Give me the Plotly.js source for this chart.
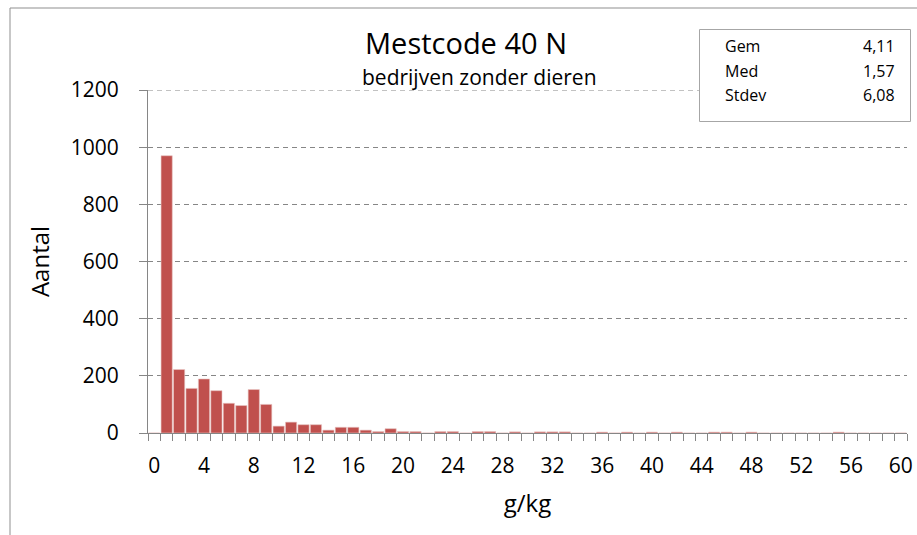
<!DOCTYPE html>
<html>
<head>
<meta charset="utf-8">
<script src="https://cdn.plot.ly/plotly-3.0.1.min.js"></script>
<style>
html,body{margin:0;padding:0;background:#fff;}
#chart{width:917px;height:535px;}
</style>
</head>
<body>
<div id="chart"></div>
<script>
// ---- data ----
const categories = [0,1,2,3,4,5,6,7,8,9,10,11,12,13,14,15,16,17,18,19,20,
  21,22,23,24,25,26,27,28,29,30,31,32,33,34,35,36,37,38,39,40,
  41,42,43,44,45,46,47,48,49,50,51,52,53,54,55,56,57,58,59,60];
const counts = [0,970,222,156,189,148,104,96,152,100,24,
  38,29,29,10,20,20,10,5,15,5,
  5,0,5,5,0,5,5,0,4,0,
  4,4,4,0,0,3,0,3,0,3,
  0,3,0,0,3,3,0,3,0,0,
  0,0,0,0,3,0,0,0,0,0];
const xTickVals = [0,4,8,12,16,20,24,28,32,36,40,44,48,52,56,60];
const xTickText = ["0","4","8","12","16","20","24","28","32","36","40","44","48","52","56","60"];
const yTickVals = [0,200,400,600,800,1000,1200];
const titleText = "Mestcode 40 N";
const subtitleText = "bedrijven zonder dieren";
const xTitle = "g/kg";
const yTitle = "Aantal";
const statLabels = ["Gem","Med","Stdev"];
const statValues = ["4,11","1,57","6,08"];

// ---- layout helpers ----
const W = 917, H = 535;
const M = {l:148, r:10, t:90, b:102};
const PW = W - M.l - M.r, PH = H - M.t - M.b;
const px = x => (x - M.l) / PW;
const py = y => (H - M.b - y) / PH;

const FONT = "Open Sans, sans-serif";
const AX = "#868686";
const yMax = yTickVals[yTickVals.length - 1];

const trace = {
  type: "bar",
  x: categories,
  y: counts,
  width: 0.9,
  marker: {color: "#C0504D", line: {color: "#E8C4C3", width: 0.6}},
  hoverinfo: "x+y"
};

const annotations = [
  {xref:"paper", yref:"paper", x:px(479), y:py(77), text:subtitleText, showarrow:false,
   xanchor:"center", yanchor:"middle", font:{family:FONT, size:21, color:"#000"}}
];
const rowY = [46, 71, 95];
statLabels.forEach((s,i)=>{
  annotations.push({xref:"paper", yref:"paper", x:px(723), y:py(rowY[i]), text:s, showarrow:false,
    xanchor:"left", yanchor:"middle", font:{family:FONT, size:16, color:"#000"}});
  annotations.push({xref:"paper", yref:"paper", x:px(897), y:py(rowY[i]), text:statValues[i], showarrow:false,
    xanchor:"right", yanchor:"middle", font:{family:FONT, size:16, color:"#000"}});
});

const layout = {
  width: W, height: H,
  margin: M,
  paper_bgcolor: "#fff",
  plot_bgcolor: "#fff",
  showlegend: false,
  font: {family: FONT, color: "#000"},
  title: {text: titleText, x: 466/W, xanchor: "center", xref: "container",
          y: 1 - 44/H, yanchor: "middle", yref: "container",
          font: {family: FONT, size: 29, color: "#000"}},
  xaxis: {
    range: [-0.5, 60.5],
    tickmode: "array", tickvals: xTickVals, ticktext: xTickText,
    ticks: "", showgrid: false, zeroline: false,
    showline: true, linecolor: AX, linewidth: 1,
    tickfont: {family: FONT, size: 21, color: "#000"},
    ticklabelstandoff: 14,
    minor: {tick0: -0.5, dtick: 1, ticks: "outside", ticklen: 7, tickcolor: AX, tickwidth: 1, showgrid: false},
    title: {text: xTitle, font: {family: FONT, size: 24, color: "#000"}, standoff: 16},
    fixedrange: true
  },
  yaxis: {
    range: [0, yMax],
    tickmode: "array", tickvals: yTickVals,
    ticks: "outside", ticklen: 8, tickcolor: AX, tickwidth: 1,
    showline: true, linecolor: AX, linewidth: 1,
    showgrid: true, gridcolor: AX, gridwidth: 1, griddash: "5px,4px",
    zeroline: false,
    tickfont: {family: FONT, size: 21, color: "#000"},
    ticklabelstandoff: 16,
    title: {text: yTitle, font: {family: FONT, size: 24, color: "#000"}, standoff: 14},
    fixedrange: true
  },
  shapes: [
    // top gridline (at axis maximum), drawn below the stats box
    {type:"line", xref:"paper", yref:"y", x0:0, x1:1, y0:yMax, y1:yMax,
     line:{color:AX, width:1, dash:"5px,4px"}, layer:"below"},
    // outer chart frame (left and top edges visible)
    {type:"rect", xref:"paper", yref:"paper", x0:px(10), x1:px(940), y0:py(560), y1:py(8),
     line:{color:"#8f8f8f", width:1}, fillcolor:"rgba(0,0,0,0)", layer:"above"},
    // stats box
    {type:"rect", xref:"paper", yref:"paper", x0:px(699.5), x1:px(910.5), y0:py(121.5), y1:py(29.5),
     line:{color:"#a6a6a6", width:1}, fillcolor:"#fff", layer:"above"}
  ],
  annotations: annotations
};

Plotly.newPlot("chart", [trace], layout, {displayModeBar:false, staticPlot:true});
</script>
</body>
</html>
